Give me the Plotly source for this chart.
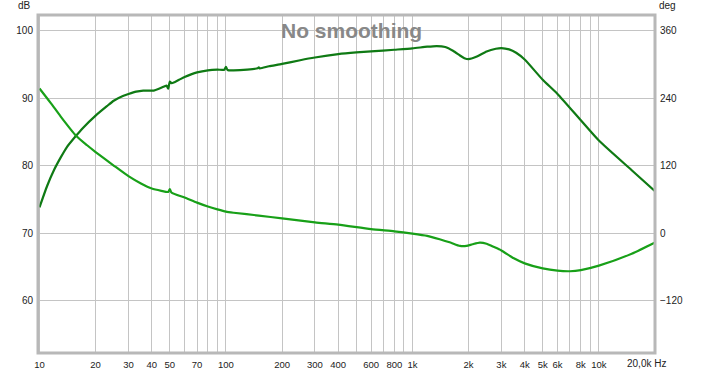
import plotly.graph_objects as go

# ---- data ----
mag_freq = [10, 11, 12, 13, 14, 15.7, 17, 20, 23, 25, 28, 30, 33, 36, 41, 44, 47, 48, 49, 50, 51,
            53, 57, 60, 65, 70, 80, 90, 98, 100, 102, 110, 130, 148, 150, 152, 170, 200, 250, 300,
            400, 500, 600, 800, 1000, 1200, 1350, 1500, 1650, 1800, 1900, 2000, 2200, 2500, 2800,
            3000, 3300, 3600, 4000, 5000, 6000, 8000, 10000, 15000, 20000]
mag_db = [73.8, 77.0, 79.4, 81.2, 82.7, 84.4, 85.5, 87.4, 88.8, 89.6, 90.3, 90.6, 90.95, 91.1, 91.1,
          91.4, 91.75, 91.85, 91.4, 92.45, 92.2, 92.35, 92.8, 93.1, 93.5, 93.8, 94.1, 94.2, 94.2,
          94.6, 94.15, 94.1, 94.2, 94.4, 94.55, 94.4, 94.7, 95.05, 95.6, 96.0, 96.5, 96.75, 96.9,
          97.15, 97.35, 97.6, 97.7, 97.55, 97.0, 96.3, 95.9, 95.75, 96.1, 96.9, 97.3, 97.4, 97.2,
          96.7, 95.7, 92.7, 90.6, 86.7, 83.7, 79.3, 76.2]

ph_freq = [10, 11.5, 13, 15.7, 18, 20, 25, 30, 35, 40, 45, 49, 50, 51, 60, 70, 80, 90, 100, 110,
           150, 200, 300, 400, 600, 800, 1000, 1200, 1400, 1600, 1800, 1950, 2100, 2300, 2500,
           2700, 3000, 3500, 4000, 5000, 6000, 7000, 8000, 10000, 15000, 20000]
ph_deg = [257, 231, 207, 173, 156, 144, 120, 101, 88, 79, 75, 73, 78, 72, 63, 54, 47, 42, 38, 36,
          31, 26, 19, 15, 7, 3, -1, -5, -11, -17, -23, -23, -20, -17, -19, -24, -31, -45, -54,
          -63, -67, -68, -66, -58, -37, -17]

x_grid_vals = [10, 20, 30, 40, 50, 60, 70, 80, 90, 100, 200, 300, 400, 500, 600, 700, 800, 900,
               1000, 2000, 3000, 4000, 5000, 6000, 7000, 8000, 9000, 10000, 20000]
x_tickvals = [10, 20, 30, 40, 50, 70, 100, 200, 300, 400, 600, 800, 1000, 2000, 3000, 4000,
              5000, 6000, 8000, 10000]
x_ticktext = ["10", "20", "30", "40", "50", "70", "100", "200", "300", "400", "600", "800",
              "1k", "2k", "3k", "4k", "5k", "6k", "8k", "10k"]
db_ticks = [60, 70, 80, 90, 100]
deg_ticks = [-120, 0, 120, 240, 360]

DB_RANGE = [52.22, 102.3]
DEG_RANGE = [(v - 70) * 12 for v in DB_RANGE]

FONT = "Liberation Sans"
FS = 10
GRID = "#c4c4c4"
fig = go.Figure()
fig.add_trace(go.Scatter(x=ph_freq, y=ph_deg, yaxis="y2", mode="lines",
                         line=dict(color="#18a018", width=2.2, shape="spline", smoothing=0.6),
                         hoverinfo="skip"))
fig.add_trace(go.Scatter(x=mag_freq, y=mag_db, mode="lines",
                         line=dict(color="#0f7a14", width=2.2, shape="spline", smoothing=0.6),
                         hoverinfo="skip"))

fig.update_layout(
    width=703, height=375,
    margin=dict(l=38, r=48, t=15, b=22, autoexpand=False),
    paper_bgcolor="white", plot_bgcolor="white",
    showlegend=False,
    font=dict(family=FONT, size=FS, color="#222222"),
    xaxis=dict(type="log", range=[0.992, 4.301], tickmode="array", tickvals=x_tickvals,
               ticktext=x_ticktext, showgrid=True, gridcolor=GRID, gridwidth=1, zeroline=False,
               minor=dict(tickmode="array", tickvals=x_grid_vals, showgrid=True,
                          gridcolor=GRID, gridwidth=1, ticks=""),
               showline=False, ticks="", ticklabelstandoff=4, tickangle=0, automargin=False,
               tickfont=dict(size=9.5)),
    yaxis=dict(range=DB_RANGE, tickvals=db_ticks, showgrid=True, gridcolor=GRID,
               zeroline=False, showline=False, ticks="", ticklabelstandoff=4, automargin=False),
    yaxis2=dict(range=DEG_RANGE, tickvals=deg_ticks, overlaying="y", side="right",
                showgrid=False, zeroline=False, showline=False, ticks="", ticklabelstandoff=4,
                automargin=False),
    shapes=[dict(type="rect", xref="paper", yref="paper", x0=0, x1=1, y0=0, y1=1,
                 line=dict(color="#b8b8b8", width=3), layer="above")],
    annotations=[
        dict(text="No smoothing", xref="paper", yref="paper", x=0.508, y=1, yanchor="top",
             yshift=-2, showarrow=False,
             font=dict(family=FONT, size=21, color="#888888", weight="bold")),
        dict(text="dB", xref="paper", yref="paper", x=0, y=1, xanchor="right", yanchor="bottom",
             xshift=-5, yshift=2, showarrow=False, font=dict(family=FONT, size=FS)),
        dict(text="deg", xref="paper", yref="paper", x=1, y=1, xanchor="left", yanchor="bottom",
             xshift=2, yshift=2, showarrow=False, font=dict(family=FONT, size=FS)),
        dict(text="20,0k Hz", xref="paper", yref="paper", x=1, y=0, xanchor="right",
             yanchor="top", xshift=13, yshift=-3, showarrow=False,
             font=dict(family=FONT, size=FS)),
    ],
)

fig.write_html("out.html", config={"displayModeBar": False},
               post_script="document.body.style.margin='0';")
